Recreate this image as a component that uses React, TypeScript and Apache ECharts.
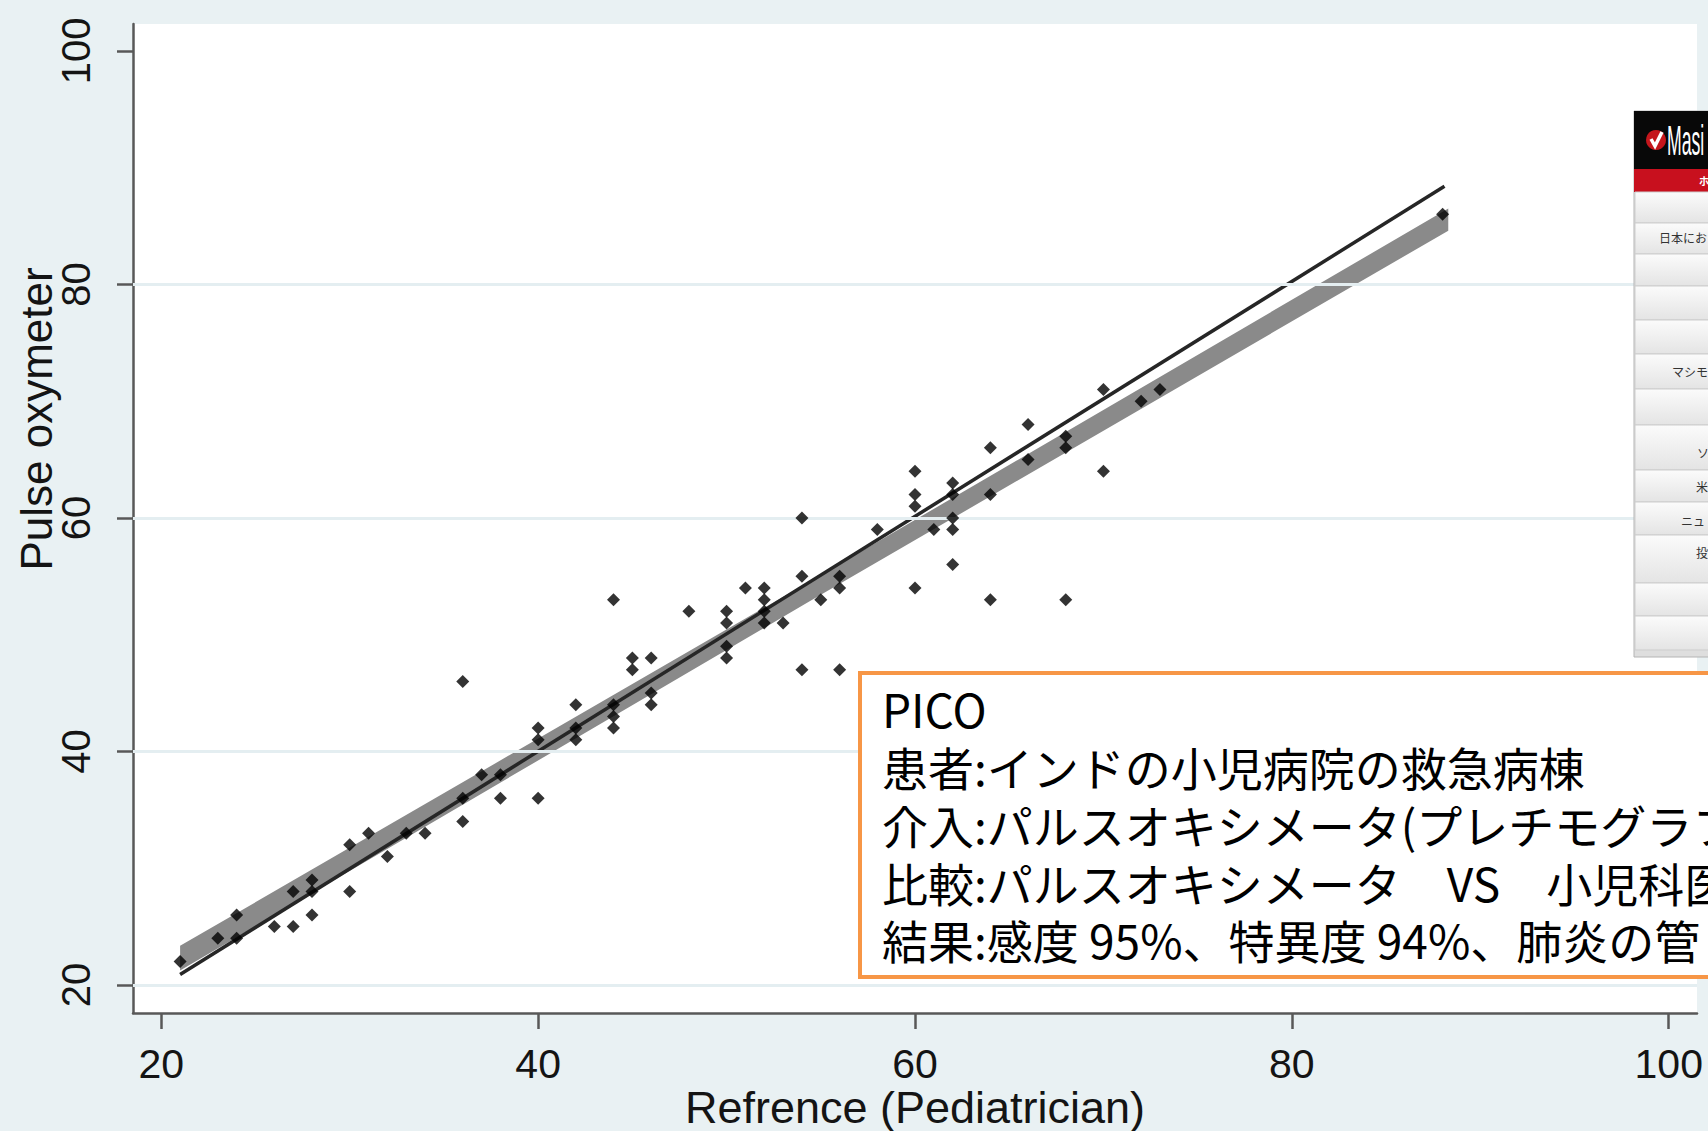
import React, { useEffect, useRef } from 'react';
import * as echarts from 'echarts';

// ---- data ----
const xTicks = [20, 40, 60, 80, 100];
const yTicks = [20, 40, 60, 80, 100];
const gridYs = [20, 40, 60, 80];

// Reference (Pediatrician) values
const refValues = [
  21, 23, 24, 24, 26, 27, 27, 28, 28, 28, 30, 30, 31, 32, 33, 34, 36, 36, 36, 37,
  38, 38, 40, 40, 40, 42, 42, 42, 44, 44, 44, 44, 45, 45, 46, 46, 46, 48, 50, 50,
  50, 50, 51, 52, 52, 52, 52, 53, 54, 54, 54, 55, 56, 56, 56, 58, 60, 60, 60, 60,
  61, 62, 62, 62, 62, 62, 64, 64, 64, 66, 66, 68, 68, 68, 70, 70, 72, 73, 88,
];
// Pulse oxymeter values
const oxValues = [
  22, 24, 26, 24, 25, 28, 25, 29, 28, 26, 32, 28, 33, 31, 33, 33, 46, 36, 34, 38,
  38, 36, 42, 41, 36, 44, 42, 41, 53, 44, 43, 42, 48, 47, 48, 45, 44, 52, 52, 51,
  49, 48, 54, 54, 53, 52, 51, 51, 60, 55, 47, 53, 55, 54, 47, 59, 64, 62, 61, 54,
  59, 63, 62, 60, 59, 56, 66, 62, 53, 68, 65, 67, 66, 53, 71, 64, 70, 71, 86,
];

// Fitted line confidence band (grey)
const fitX = [21, 54.5, 88.3];
const fitLow = [21.25, 52.95, 84.6];
const fitHigh = [23.35, 54.65, 86.5];

// Line of equality (dark)
const eqX = [21, 88.1];
const eqY = [20.9, 88.4];

const picoLines = [
  'PICO',
  '患者:インドの小児病院の救急病棟',
  '介入:パルスオキシメータ(プレチモグラフ',
  '比較:パルスオキシメータ　VS　小児科医',
  '結果:感度 95%、特異度 94%、肺炎の管',
];

const siteRows = [
  { top: 192, h: 31, label: '', lx: 0, ty: 0 },
  { top: 223, h: 31, label: '日本にお', lx: 1659, ty: 237 },
  { top: 254, h: 32, label: '', lx: 0, ty: 0 },
  { top: 286, h: 34, label: '', lx: 0, ty: 0 },
  { top: 320, h: 34, label: '', lx: 0, ty: 0 },
  { top: 354, h: 35, label: 'マシモ', lx: 1672, ty: 371 },
  { top: 389, h: 36, label: '', lx: 0, ty: 0 },
  { top: 425, h: 45, label: 'ソ', lx: 1697, ty: 452 },
  { top: 470, h: 32, label: '米', lx: 1696, ty: 486 },
  { top: 502, h: 33, label: 'ニュ', lx: 1681, ty: 520 },
  { top: 535, h: 48, label: '投', lx: 1696, ty: 552 },
  { top: 583, h: 33, label: '', lx: 0, ty: 0 },
  { top: 616, h: 34, label: '', lx: 0, ty: 0 },
];

const LATIN = "'Liberation Sans', Arial, Helvetica, sans-serif";
const CJK = "'Noto Sans CJK JP', sans-serif";
const AXIS_GREY = '#585858';
const TEXT = '#141414';

function buildGraphic() {
  const els: any[] = [];
  // y axis title
  els.push({
    type: 'text',
    x: 36,
    y: 419,
    rotation: Math.PI / 2,
    z: 50,
    style: {
      text: 'Pulse oxymeter',
      fontSize: 44,
      fontFamily: LATIN,
      fill: TEXT,
      align: 'center',
      verticalAlign: 'middle',
    },
  });

  // website screenshot (Masimo)
  const sx = 1634;
  els.push({
    type: 'rect',
    z: 50,
    shape: { x: sx, y: 111, width: 90, height: 546 },
    style: { fill: '#dedede', stroke: '#b4b4b4', lineWidth: 1 },
  });
  els.push({
    type: 'rect',
    z: 51,
    shape: { x: sx, y: 111, width: 90, height: 58 },
    style: { fill: '#080808' },
  });
  els.push({
    type: 'circle',
    z: 52,
    shape: { cx: 1656, cy: 140, r: 10 },
    style: { fill: '#c4161c' },
  });
  els.push({
    type: 'polyline',
    z: 53,
    shape: { points: [[1651, 139], [1655, 146], [1662, 132]] },
    style: { stroke: '#ffffff', lineWidth: 3.5, fill: null },
  });
  els.push({
    type: 'text',
    z: 53,
    x: 1667,
    y: 141,
    scaleX: 0.42,
    style: {
      text: 'Masi',
      fontSize: 42,
      fontFamily: LATIN,
      fill: '#ffffff',
      align: 'left',
      verticalAlign: 'middle',
    },
  });
  els.push({
    type: 'rect',
    z: 51,
    shape: { x: sx, y: 169, width: 90, height: 23 },
    style: { fill: '#c8101e' },
  });
  els.push({
    type: 'text',
    z: 53,
    x: 1699,
    y: 180,
    style: {
      text: 'ホ',
      fontSize: 10,
      fontWeight: 'bold',
      fontFamily: CJK,
      fill: '#ffffff',
      align: 'left',
      verticalAlign: 'middle',
    },
  });
  siteRows.forEach((r) => {
    els.push({
      type: 'rect',
      z: 51,
      shape: { x: sx + 1, y: r.top, width: 90, height: r.h },
      style: {
        fill: new echarts.graphic.LinearGradient(0, 0, 0, 1, [
          { offset: 0, color: '#fbfbfb' },
          { offset: 1, color: '#e4e4e4' },
        ]),
        stroke: '#cdcdcd',
        lineWidth: 1,
      },
    });
    if (r.label) {
      els.push({
        type: 'text',
        z: 53,
        x: r.lx,
        y: r.ty,
        style: {
          text: r.label,
          fontSize: 12,
          fontFamily: CJK,
          fill: '#333333',
          align: 'left',
          verticalAlign: 'middle',
        },
      });
    }
  });

  // PICO box
  els.push({
    type: 'rect',
    z: 60,
    shape: { x: 860, y: 673, width: 900, height: 304 },
    style: { fill: '#ffffff', stroke: '#f79646', lineWidth: 4 },
  });
  const lineYs = [708, 766, 824, 882, 939];
  picoLines.forEach((t, i) => {
    els.push({
      type: 'text',
      z: 61,
      x: 882,
      y: lineYs[i],
      style: {
        text: t,
        fontSize: 46,
        lineHeight: 52,
        fontFamily: CJK,
        fill: '#000000',
        align: 'left',
        verticalAlign: 'middle',
      },
    });
  });
  return els;
}

export default function App() {
  const ref = useRef<HTMLDivElement>(null);

  useEffect(() => {
    if (!ref.current) return;
    const chart = echarts.init(ref.current, undefined, { renderer: 'svg' });

    const scatterData = refValues.map((x, i) => [x, oxValues[i]]);
    const eqData = eqX.map((x, i) => [x, eqY[i]]);
    const bandData = fitX.map((x, i) => [x, fitLow[i], fitHigh[i]]);

    const option: any = {
      animation: false,
      backgroundColor: '#e9f1f3',
      grid: {
        left: 133,
        right: 11,
        top: 24,
        bottom: 118,
        containLabel: false,
        outerBoundsMode: 'none',
        show: true,
        backgroundColor: '#ffffff',
        borderWidth: 0,
      },
      xAxis: {
        type: 'value',
        min: 18.5,
        max: 101.5,
        axisLine: { show: true, onZero: false, lineStyle: { color: AXIS_GREY, width: 2.5 } },
        axisTick: {
          show: true,
          length: 16,
          customValues: xTicks,
          lineStyle: { color: AXIS_GREY, width: 2.5 },
        },
        axisLabel: {
          customValues: xTicks,
          margin: 30,
          fontSize: 41,
          color: TEXT,
          fontFamily: LATIN,
        },
        splitLine: { show: false },
        name: 'Refrence (Pediatrician)',
        nameLocation: 'middle',
        nameGap: 72,
        nameMoveOverlap: false,
        nameTextStyle: { fontSize: 45, color: TEXT, fontFamily: LATIN },
      },
      yAxis: {
        type: 'value',
        min: 17.6,
        max: 102.3,
        axisLine: { show: true, onZero: false, lineStyle: { color: AXIS_GREY, width: 2.5 } },
        axisTick: {
          show: true,
          length: 16,
          customValues: yTicks,
          lineStyle: { color: AXIS_GREY, width: 2.5 },
        },
        axisLabel: {
          customValues: yTicks,
          rotate: 90,
          margin: 37,
          fontSize: 40,
          color: TEXT,
          fontFamily: LATIN,
        },
        splitLine: { show: false },
      },
      graphic: { elements: buildGraphic() },
      series: [
        {
          type: 'line',
          data: [],
          z: 1,
          silent: true,
          markLine: {
            silent: true,
            symbol: ['none', 'none'],
            label: { show: false },
            lineStyle: { color: '#e4eef1', width: 3, type: 'solid' },
            data: gridYs.map((v) => ({ yAxis: v })),
          },
        },
        {
          type: 'custom',
          z: 3,
          silent: true,
          data: bandData,
          encode: { x: 0, y: [1, 2] },
          renderItem: (params: any, api: any) => {
            if (params.dataIndex !== 0) return { type: 'group', children: [] };
            const top = fitX.map((x, i) => api.coord([x, fitHigh[i]]));
            const bot = fitX.map((x, i) => api.coord([x, fitLow[i]])).reverse();
            return {
              type: 'polygon',
              shape: { points: top.concat(bot) },
              style: { fill: '#8a8a8a' },
            };
          },
        },
        {
          type: 'line',
          z: 4,
          silent: true,
          data: eqData,
          showSymbol: false,
          lineStyle: { color: '#262626', width: 3.5 },
        },
        {
          type: 'scatter',
          z: 5,
          data: scatterData,
          symbol: 'diamond',
          symbolSize: 13,
          itemStyle: { color: '#000000' },
        },
      ],
    };

    chart.setOption(option);
    return () => {
      chart.dispose();
    };
  }, []);

  return (
    <div
      ref={ref}
      style={{ position: 'absolute', left: 0, top: 0, width: 1708, height: 1131 }}
    />
  );
}
